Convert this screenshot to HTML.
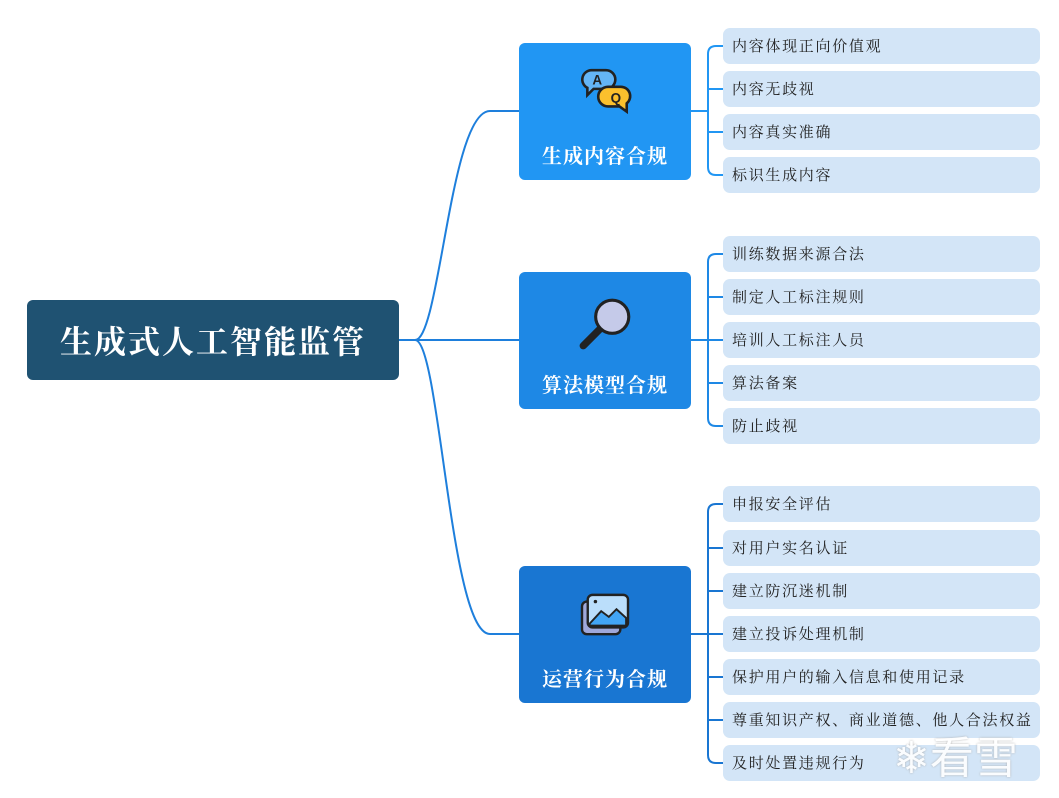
<!DOCTYPE html>
<html><head><meta charset="utf-8"><style>
body{margin:0;width:1059px;height:798px;background:#fff;position:relative;overflow:hidden;font-family:"Liberation Serif","Noto Serif CJK SC",serif}
.root{position:absolute;left:27px;top:300px;width:372px;height:80px;background:#1f5272;border-radius:6px;color:#fff;font-size:32px;font-weight:bold;display:flex;align-items:center;justify-content:center;letter-spacing:2px}
.br{position:absolute;left:519px;width:172px;height:137px;border-radius:6px;color:#fff;font-size:20px;font-weight:bold;text-align:center;letter-spacing:1px}
.br .t{position:absolute;left:0;right:0;bottom:11px}
.br svg{position:absolute}
.lf{position:absolute;left:723px;width:317px;height:36px;background:#d3e5f7;border-radius:7px;font-size:15px;color:#222;line-height:39px;padding-left:9px;box-sizing:border-box;letter-spacing:1.7px}
</style></head><body>
<svg width="1059" height="798" style="position:absolute;left:0;top:0" fill="none" stroke-width="2">
<g stroke="#1e7fdc">
<path d="M399 340 H415 C440 340 450 111 490 111 H519"/>
<path d="M399 340 H519"/>
<path d="M415 340 C440 340 450 634 490 634 H519"/>
</g>
<g stroke="#2196f3">
<path d="M691 111 H708"/>
<path d="M723 46 H716 Q708 46 708 54 V167 Q708 175 716 175 H723"/>
<path d="M708 89 H723 M708 132 H723"/>
</g>
<g stroke="#1e88e5">
<path d="M691 340 H723"/>
<path d="M723 254 H716 Q708 254 708 262 V418 Q708 426 716 426 H723"/>
<path d="M708 297 H723 M708 383 H723"/>
</g>
<g stroke="#1976d2">
<path d="M691 634 H723"/>
<path d="M723 504 H716 Q708 504 708 512 V755 Q708 763 716 763 H723"/>
<path d="M708 548 H723 M708 591 H723 M708 677 H723 M708 720 H723"/>
</g>
</svg>
<div class="root">生成式人工智能监管</div>
<div class="br" style="top:43px;background:#2196f3">
<svg style="left:58px;top:24px" width="58" height="52" viewBox="0 0 56 50"><path d="M14 3h14a9 9 0 0 1 0 18H16l-6 6v-7a9 9 0 0 1 4-17z" fill="#64b5f6" stroke="#222" stroke-width="2.5"/><text x="20" y="17" font-family="Liberation Sans" font-weight="bold" font-size="13" fill="#222" text-anchor="middle">A</text><path d="M30 19h12a9 9 0 0 1 6 16v8l-7-5H30a9 9 0 0 1 0-19z" fill="#fbc02d" stroke="#222" stroke-width="2.5"/><text x="38" y="34" font-family="Liberation Sans" font-weight="bold" font-size="13" fill="#222" text-anchor="middle">Q</text></svg>
<div class="t">生成内容合规</div></div>
<div class="br" style="top:272px;background:#1e88e5">
<svg style="left:58px;top:22px" width="58" height="58" viewBox="0 0 56 56"><line x1="6" y1="50" x2="22" y2="34" stroke="#222" stroke-width="7" stroke-linecap="round"/><circle cx="34" cy="22" r="16" fill="#c5cae9" stroke="#222" stroke-width="3"/></svg>
<div class="t">算法模型合规</div></div>
<div class="br" style="top:566px;background:#1976d2">
<svg style="left:59px;top:26px" width="54" height="46" viewBox="0 0 56 48"><rect x="4" y="10" width="40" height="34" rx="5" fill="#9fa8da" stroke="#222" stroke-width="2.5"/><rect x="10" y="3" width="42" height="34" rx="5" fill="#bbdefb" stroke="#222" stroke-width="2.5"/><path d="M12 33 L24 20 L32 26 L40 18 L50 27 V35 H12z" fill="#42a5f5" stroke="#222" stroke-width="2"/><circle cx="18" cy="10" r="1.8" fill="#222"/></svg>
<div class="t">运营行为合规</div></div>
<div class="lf" style="top:28px">内容体现正向价值观</div>
<div class="lf" style="top:71px">内容无歧视</div>
<div class="lf" style="top:114px">内容真实准确</div>
<div class="lf" style="top:157px">标识生成内容</div>
<div class="lf" style="top:236px">训练数据来源合法</div>
<div class="lf" style="top:279px">制定人工标注规则</div>
<div class="lf" style="top:322px">培训人工标注人员</div>
<div class="lf" style="top:365px">算法备案</div>
<div class="lf" style="top:408px">防止歧视</div>
<div class="lf" style="top:486px">申报安全评估</div>
<div class="lf" style="top:530px">对用户实名认证</div>
<div class="lf" style="top:573px">建立防沉迷机制</div>
<div class="lf" style="top:616px">建立投诉处理机制</div>
<div class="lf" style="top:659px">保护用户的输入信息和使用记录</div>
<div class="lf" style="top:702px">尊重知识产权、商业道德、他人合法权益</div>
<div class="lf" style="top:745px">及时处置违规行为</div>
<div style="position:absolute;left:893px;top:722px;color:#fff;font-family:'Liberation Sans','Noto Sans CJK SC',sans-serif;font-size:44px;opacity:.9;text-shadow:0 0 2px #aaa">❄看雪</div>
</body></html>
